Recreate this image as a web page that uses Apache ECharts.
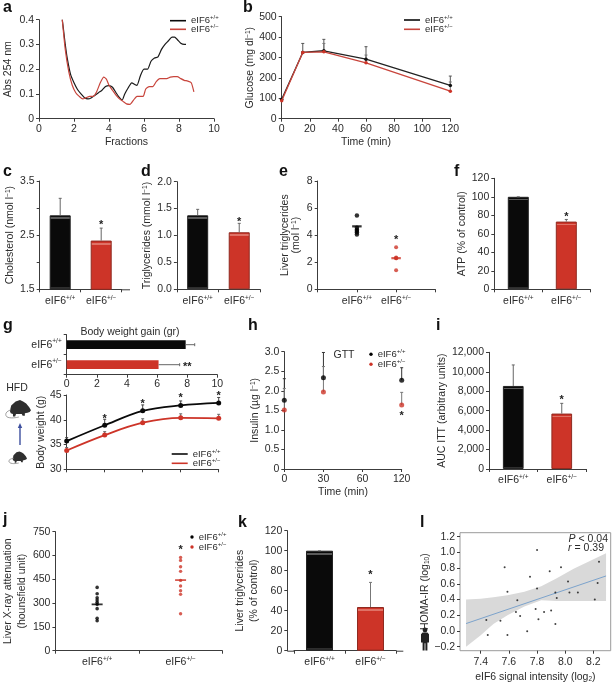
<!DOCTYPE html>
<html><head><meta charset="utf-8">
<style>html,body{margin:0;padding:0;background:#fff}#c{width:612px;height:685px}</style>
<script src="https://cdn.jsdelivr.net/npm/echarts@6/dist/echarts.min.js"></script>
</head><body><div id="c"></div>
<script>
// ---- data ----
const WT='eIF6+/+', HET='eIF6+/\u2212';
const genotypes=[WT,HET];
// a
const aBlackX=[1.33,1.4,1.5,1.6,1.8,2.0,2.2,2.4,2.6,2.8,3.0,3.2,3.4,3.6,3.8,4.0,4.2,4.4,4.6,4.75,4.9,5.1,5.3,5.5,5.6,5.8,6.0,6.2,6.4,6.6,6.8,7.0,7.2,7.4,7.6,7.75,7.9,8.1,8.3,8.4];
const aBlackY=[.40,.36,.30,.25,.18,.145,.118,.10,.085,.08,.085,.095,.105,.115,.13,.134,.127,.105,.085,.075,.10,.125,.145,.137,.135,.175,.20,.20,.232,.245,.25,.28,.30,.315,.33,.33,.32,.305,.30,.30];
const aRedX=[1.33,1.5,1.7,1.9,2.1,2.3,2.5,2.7,2.9,3.1,3.3,3.5,3.7,3.85,4.0,4.2,4.4,4.6,4.8,5.0,5.2,5.4,5.6,5.8,5.95,6.1,6.3,6.5,6.7,6.9,7.1,7.3,7.5,7.7,7.9,8.1,8.3,8.5,8.7,8.85];
const aRedY=[.40,.28,.19,.135,.105,.09,.08,.085,.09,.09,.11,.145,.168,.16,.135,.115,.095,.08,.07,.06,.058,.075,.09,.09,.09,.12,.13,.13,.15,.162,.162,.162,.168,.17,.17,.162,.155,.152,.145,.108];
// b
const bTime=[0,15,30,60,120];
const bBlack=[95,325,333,292,163], bRed=[88,325,328,274,135];
const bBlackErr=[null,369,389,353,209], bRedErr=[null,null,369,312,180];
// c d f i k bars
const cVals=[2.866,2.40], cErr=[3.18,2.63], cStar=[null,2.73];
const dVals=[1.375,1.06], dErr=[1.486,1.226], dStar=[null,1.29];
const fVals=[100,73.2], fErr=[100,75.5], fStar=[null,80.8];
const iVals=[8540,5700], iErr=[10700,6750], iStar=[null,7340];
const kVals=[100,43.7], kErr=[100,68.3], kStar=[null,77.3];
// e
const eBlack=[5.45,4.55,4.4,4.3,4.2,4.05], eBlackMean=4.65;
const eRed=[3.1,2.35,2.3,2.3,1.4], eRedMean=2.3, eStar=3.8;
// g
const gGain=[7.9,6.1], gGainErr=[8.5,7.5];
const gWeeks=['0','1','2','3','4'];
const gBlack=[35.7,38.9,41.8,42.9,43.4], gRed=[33.8,36.9,39.4,40.4,40.3];
const gBlackErr=[36.4,40.1,43.0,43.8,44.5], gRedErr=[34.4,37.6,40.2,41.2,41.1];
const gStars=[null,40.6,43.6,44.8,45.3];
// h
const hTime=['0','30','60','120'];
const hBlack=[1.76,2.335,null,2.27], hRed=[1.51,1.97,null,1.636];
const hBlackErr=[2.31,2.98,null,2.59], hRedErr=[2.06,2.62,null,1.96];
// j
const jBlack=[399,359,334,319,305,292,265,204,189], jBlackMean=292;
const jRed=[588,569,529,500,443,408,378,355,233], jRedMean=445, jStar=649;
// l
const lX=[7.44,7.54,7.45,7.59,7.57,7.59,7.66,7.65,7.68,7.73,7.75,7.80,7.80,7.79,7.81,7.85,7.90,7.89,7.93,7.93,7.94,7.97,8.02,8.03,8.09,8.21,8.23,8.24];
const lY=[.14,.13,-.05,-.05,.81,.50,.39,.24,.19,-.005,.69,1.03,.54,.28,.15,.24,.26,.76,.49,.09,.42,.81,.63,.49,.49,.40,.61,.88];
const lFitX=[7.296,8.29], lFitY=[.094,.70];
const lBandX=[7.296,7.40,7.49,7.59,7.71,7.83,7.94,8.06,8.29];
const lBandHi=[.40,.41,.43,.455,.50,.57,.67,.79,.99];
const lBandLo=[-.20,-.055,.09,.2,.31,.39,.38,.38,.38];
const lTicksX=[7.4,7.6,7.8,8.0,8.2];
const lTicksY=[-0.2,0.0,0.2,0.4,0.6,0.8,1.0,1.2];

// ---- style ----
const FONT='"Liberation Sans",Arial,sans-serif', FS=10.5, TXT='#2b2b2b', AX='#3c3c3c', BLK='#0a0a0a', RED='#cd3428';
const rich={
 n:{fontSize:FS,fontFamily:FONT,color:TXT,lineHeight:13},
 s:{fontSize:6.5,fontFamily:FONT,color:TXT,verticalAlign:'top',lineHeight:9},
 d:{fontSize:6.5,fontFamily:FONT,color:TXT,verticalAlign:'bottom',lineHeight:9},
 i:{fontSize:FS,fontFamily:FONT,color:TXT,fontStyle:'italic',lineHeight:13}
};
const richLeg={n:{fontSize:9.5,fontFamily:FONT,color:TXT,lineHeight:12},s:{fontSize:6,fontFamily:FONT,color:TXT,verticalAlign:'top',lineHeight:8}};
const geno=g=>{const m=/^(eIF6)(.*)$/.exec(g);return m?`{n|${m[1]}}{s|${m[2]}}`:g;};
const opt={animation:false,backgroundColor:'#fff',textStyle:{fontFamily:FONT},grid:[],xAxis:[],yAxis:[],series:[],legend:[],graphic:[]};

function axisBase(){return {
 axisLine:{show:true,onZero:false,lineStyle:{color:AX,width:1}},
 axisTick:{show:true,length:3,inside:false,lineStyle:{color:AX,width:1}},
 splitLine:{show:false},
 axisLabel:{fontSize:FS,fontFamily:FONT,color:TXT,margin:5,rich},
 nameTextStyle:{fontSize:FS,fontFamily:FONT,color:TXT,rich},
 nameLocation:'middle'
};}
// geometry in page pixels: l,r,t,b
function panel(g,x,y){
 const i=opt.grid.length;
 opt.grid.push({left:g.l,top:g.t,width:g.r-g.l,height:g.b-g.t,containLabel:false,show:!!g.frame,borderColor:'#9a9a9a',borderWidth:1});
 opt.xAxis.push(Object.assign(axisBase(),{gridIndex:i},x));
 opt.yAxis.push(Object.assign(axisBase(),{gridIndex:i},y));
 return i;
}
function lineS(i,name,rows,color,o){opt.series.push(Object.assign({type:'line',name,xAxisIndex:i,yAxisIndex:i,data:rows,showSymbol:false,symbol:'none',lineStyle:{color,width:1.5},itemStyle:{color},connectNulls:false,z:4},o||{}));}
function errS(i,rows,color,horizontal,w){
 opt.series.push({type:'custom',xAxisIndex:i,yAxisIndex:i,data:rows,silent:true,z:3,clip:false,
  encode:horizontal?{x:[0,2],y:1}:{x:0,y:[1,2]},
  renderItem(p,api){
   const a=api.coord([api.value(0),api.value(1)]);
   const b=horizontal?api.coord([api.value(2),api.value(1)]):api.coord([api.value(0),api.value(2)]);
   const st={stroke:color,lineWidth:w||1,fill:null};
   const cap=horizontal?{x1:b[0],y1:b[1]-1.5,x2:b[0],y2:b[1]+1.5}:{x1:b[0]-1.5,y1:b[1],x2:b[0]+1.5,y2:b[1]};
   return {type:'group',children:[{type:'line',shape:{x1:a[0],y1:a[1],x2:b[0],y2:b[1]},style:st},{type:'line',shape:cap,style:st}]};
  }});
}
function starS(i,rows,text){
 opt.series.push({type:'custom',xAxisIndex:i,yAxisIndex:i,data:rows,silent:true,z:6,clip:false,encode:{x:0,y:1},
  renderItem(p,api){const c=api.coord([api.value(0),api.value(1)]);
   return {type:'text',style:{text:text||'*',x:c[0],y:c[1]+2,fill:'#222',fontSize:11,fontWeight:'bold',fontFamily:FONT,align:'center',verticalAlign:'middle'}};}});
}
const pair=(vals,tops)=>vals.map((v,k)=>tops[k]==null||v==null?null:[k,v,tops[k]]).filter(Boolean);
const stars=a=>a.map((v,k)=>v==null?null:[k,v]).filter(Boolean);
function barFill(color,stripe,bottom,h,o1,o2){
 const a=o1/h,b=o2/h,c=1-2.5/h;
 const st=[{offset:0,color},{offset:a,color},{offset:a,color:stripe},{offset:b,color:stripe},{offset:b,color}];
 if(bottom){st.push({offset:c,color},{offset:c,color:bottom},{offset:1,color:bottom});} else st.push({offset:1,color});
 return {type:'linear',x:0,y:0,x2:0,y2:1,colorStops:st};
}
function bars(i,vals,g,min,max,w,o1,o2,horizontal){
 const span=horizontal?(g.r-g.l):(g.b-g.t);
 const data=vals.map((v,k)=>{
  const h=(v-min)/(max-min)*span;
  if(horizontal) return {value:v,itemStyle:{color:k?RED:BLK}};
  const f=k?barFill(RED,'#df7266',null,h,o1,o2):barFill(BLK,'#5a5a5a','#2e2e2e',h,o1,o2);
  return {value:v,itemStyle:{color:f,borderColor:k?'#8f2a20':'#222',borderWidth:1}};
 });
 opt.series.push({type:'bar',xAxisIndex:i,yAxisIndex:i,data,barWidth:w,z:2,silent:true});
}
function catX(extra){return Object.assign({type:'category',data:genotypes,axisLabel:Object.assign(axisBase().axisLabel,{formatter:geno,interval:0}),axisTick:Object.assign(axisBase().axisTick,{alignWithLabel:false})},extra||{});}
function valY(min,max,interval,name,gap,fmt,extra){
 const a=axisBase();
 const y={type:'value',min,max,interval,name,nameGap:gap};
 if(fmt) y.axisLabel=Object.assign(a.axisLabel,{formatter:fmt});
 return Object.assign(y,extra||{});
}
function leg(name,left,y,color,line){
 opt.legend.push({show:true,data:[name],left,top:y-6,padding:0,orient:'horizontal',selectedMode:false,
  icon:line?'rect':'circle',itemWidth:line?16:3.4,itemHeight:line?1.6:3.4,
  itemStyle:{color,borderWidth:0},lineStyle:{width:0},
  textStyle:{rich:richLeg,fontSize:9.5,fontFamily:FONT,color:TXT},
  formatter:n=>`{n|${n.slice(0,4)}}{s|${n.slice(4)}}`});
}
function letter(t,x,y){opt.graphic.push({type:'text',left:x,top:y-9,silent:true,style:{text:t,fontFamily:FONT,fontSize:16,fontWeight:'bold',fill:'#111'}});}
function gText(t,x,y,o){opt.graphic.push({type:'text',x,y,silent:true,style:Object.assign({text:t,fontFamily:FONT,fontSize:FS,fill:TXT,align:'center',verticalAlign:'middle',rich},o||{})});}
function hline(x1,x2,y){opt.graphic.push({type:'line',silent:true,shape:{x1,y1:y,x2,y2:y},style:{stroke:AX,lineWidth:1}});}
const twoLineName=Object.assign(axisBase().nameTextStyle,{lineHeight:14});

// ---- a ----
let g={l:39,r:214,t:19.7,b:118.7},i;
i=panel(g,{type:'value',min:0,max:10,interval:2,name:'Fractions',nameGap:18},valY(0,0.4,0.1,'Abs 254 nm',25));
lineS(i,WT,aBlackX.map((x,k)=>[x,aBlackY[k]]),BLK,{smooth:0.2,lineStyle:{color:'#1a1a1a',width:1.2}});
lineS(i,HET,aRedX.map((x,k)=>[x,aRedY[k]]),RED,{smooth:0.2,lineStyle:{color:'#c8453c',width:1.2}});
leg(WT,170,20.7,BLK,true);leg(HET,170,29.3,'#c8453c',true);
// ---- b ----
g={l:281.7,r:450.3,t:16.7,b:118.7};
i=panel(g,{type:'value',min:0,max:120,interval:20,name:'Time (min)',nameGap:18},valY(0,500,100,'Glucose (mg dl{s|\u22121})',23));
errS(i,bTime.map((t,k)=>bBlackErr[k]==null?null:[t,bBlack[k],bBlackErr[k]]).filter(Boolean),'#555');
errS(i,bTime.map((t,k)=>bRedErr[k]==null?null:[t,bRed[k],bRedErr[k]]).filter(Boolean),'#777');
lineS(i,WT,bTime.map((t,k)=>[t,bBlack[k]]),'#111',{showSymbol:true,symbol:'circle',symbolSize:3.5,lineStyle:{color:'#222',width:1.3}});
lineS(i,HET,bTime.map((t,k)=>[t,bRed[k]]),RED,{showSymbol:true,symbol:'circle',symbolSize:3.5,lineStyle:{color:'#c8453c',width:1.3},z:5});
leg(WT,404,20,BLK,true);leg(HET,404,29.3,'#c8453c',true);
// ---- c ----
g={l:39.7,r:121.7,t:181,b:289.3};
i=panel(g,catX(),valY(1.5,3.5,0.5,'Cholesterol (nmol l{s|\u22121})',24,v=>(v*2)%2===1?v.toFixed(1):''));
errS(i,pair(cVals,cErr),'#666');bars(i,cVals,g,1.5,3.5,21,2,4);starS(i,stars(cStar));
hline(121.7,130,289.8);
// ---- d ----
g={l:176.9,r:260,t:181.7,b:289.3};
i=panel(g,catX(),valY(0,2,0.5,'Triglycerides (mmol l{s|\u22121})',24,v=>v.toFixed(1)));
errS(i,pair(dVals,dErr),'#666');bars(i,dVals,g,0,2,21,2,4);starS(i,stars(dStar));
// ---- e ----
g={l:317.7,r:435.3,t:181,b:289.3};
{const xa=axisBase();
i=panel(g,{type:'value',min:0,max:3,interval:1,axisLabel:Object.assign(xa.axisLabel,{formatter:v=>v===1||v===2?geno(genotypes[v-1]):'',hideOverlap:false})},
 valY(0,8,2,'Liver triglycerides\n(mol l{s|\u22121})',16));}
opt.series.push({type:'scatter',xAxisIndex:i,yAxisIndex:i,data:eBlack.map(v=>[1,v]),symbolSize:4.5,itemStyle:{color:'#000'},z:4});
opt.series.push({type:'scatter',xAxisIndex:i,yAxisIndex:i,data:[[1,eBlackMean]],symbol:'rect',symbolSize:[9.5,2.2],itemStyle:{color:'#000'},z:4});
opt.series.push({type:'scatter',xAxisIndex:i,yAxisIndex:i,data:eRed.map(v=>[2,v]),symbolSize:4,itemStyle:{color:RED},z:4});
opt.series.push({type:'scatter',xAxisIndex:i,yAxisIndex:i,data:[[2,eRedMean]],symbol:'rect',symbolSize:[9.5,2.2],itemStyle:{color:RED},z:4});
starS(i,[[2,eStar]]);
// ---- f ----
g={l:494.3,r:590.3,t:178.3,b:289.3};
i=panel(g,catX(),valY(0,120,20,'ATP (% of control)',27));
errS(i,pair(fVals,fErr),'#666');bars(i,fVals,g,0,120,21,2,3);starS(i,stars(fStar));
// ---- g top ----
g={l:66.7,r:217.3,t:334.7,b:374.7};
{const ya=axisBase();
i=panel(g,{type:'value',min:0,max:10,interval:2,axisLabel:Object.assign(axisBase().axisLabel,{margin:4})},
 {type:'category',data:genotypes,inverse:true,axisLabel:Object.assign(ya.axisLabel,{formatter:geno,interval:0,margin:5})});}
errS(i,gGain.map((v,k)=>[v,k,gGainErr[k]]),'#666',true);
bars(i,gGain,g,0,10,8.7,0,0,true);
starS(i,[[8.0,1]],'**');
gText('Body weight gain (gr)',130,332.5);
// ---- g bottom ----
g={l:66.7,r:218.7,t:395,b:469.3};
i=panel(g,{type:'category',data:gWeeks,boundaryGap:false,axisLabel:{show:false}},valY(30,45,5,'Body weight (g)',18));
errS(i,gBlack.map((v,k)=>[k,v,gBlackErr[k]]),'#444');
errS(i,gRed.map((v,k)=>[k,v,gRedErr[k]]),'#666');
lineS(i,WT,gBlack,BLK,{smooth:0.35,showSymbol:true,symbol:'circle',symbolSize:5,lineStyle:{color:BLK,width:1.8}});
lineS(i,HET,gRed,RED,{smooth:0.35,showSymbol:true,symbol:'circle',symbolSize:5,lineStyle:{color:RED,width:1.8}});
starS(i,stars(gStars));
leg(WT,171.7,454,BLK,true);leg(HET,171.7,463.3,RED,true);
gText('HFD',17,388);
// mice + arrow (decoration)
const mouseShape=[[4,62],[10,36],[30,16],[50,10],[66,18],[78,26],[92,44],[100,58],[94,66],[84,70],[72,72],[72,84],[62,84],[58,76],[32,76],[28,88],[18,88],[18,76],[8,72]];
function mouse(x,y,w,h){
 opt.graphic.push({type:'polygon',silent:true,shape:{points:mouseShape.map(p=>[x+p[0]/100*w,y+p[1]/90*h])},style:{fill:'#2f2f2f'}});
 opt.graphic.push({type:'polyline',silent:true,shape:{points:[[x+2,y+h*0.62],[x-3,y+h*0.8],[x-1,y+h*1.02],[x+w*0.45,y+h*1.0]],smooth:0.5},style:{stroke:'#888',lineWidth:0.8,fill:null}});
}
mouse(9,398,22,19);mouse(12,450,15,13);
opt.graphic.push({type:'line',silent:true,shape:{x1:20,y1:445,x2:20,y2:426},style:{stroke:'#3d4f9e',lineWidth:1.4}});
opt.graphic.push({type:'polygon',silent:true,shape:{points:[[20,423],[17.8,428],[22.2,428]]},style:{fill:'#3d4f9e'}});
// ---- h ----
g={l:284.3,r:401.7,t:351.7,b:469};
i=panel(g,{type:'category',data:hTime,boundaryGap:false,name:'Time (min)',nameGap:18,axisLabel:Object.assign(axisBase().axisLabel,{interval:0})},
 valY(0,3,0.5,'Insulin (\u00b5g l{s|\u22121})',21,v=>v===0?'0':v.toFixed(1)));
errS(i,pair(hBlack,hBlackErr),'#333');errS(i,pair(hRed,hRedErr),'#777');
opt.series.push({type:'scatter',name:WT,xAxisIndex:i,yAxisIndex:i,data:hBlack.map((v,k)=>v==null?null:[k,v]).filter(Boolean),symbolSize:5,itemStyle:{color:'#000'},z:5});
opt.series.push({type:'scatter',name:HET,xAxisIndex:i,yAxisIndex:i,data:hRed.map((v,k)=>v==null?null:[k,v]).filter(Boolean),symbolSize:5,itemStyle:{color:RED},z:5});
starS(i,[[3,1.41]]);
gText('GTT',344,355);
leg(WT,369.3,354.3,'#000',false);leg(HET,369.3,364.3,RED,false);
// ---- i ----
g={l:489,r:586,t:352.3,b:469};
i=panel(g,catX(),valY(0,12000,2000,'AUC ITT (arbitrary units)',36,v=>v.toLocaleString('en-US')));
errS(i,pair(iVals,iErr),'#666');bars(i,iVals,g,0,12000,20.7,2,3);starS(i,stars(iStar));
// ---- j ----
g={l:53.7,r:222.3,t:531.7,b:650.7};
i=panel(g,catX(),valY(0,750,150,'Liver X-ray attenuation\n(hounsfield unit)',26,null,{nameTextStyle:twoLineName}));
opt.series.push({type:'scatter',xAxisIndex:i,yAxisIndex:i,data:jBlack.map(v=>[0,v]),symbolSize:3.6,itemStyle:{color:'#000'},z:4});
opt.series.push({type:'scatter',xAxisIndex:i,yAxisIndex:i,data:[[0,jBlackMean]],symbol:'rect',symbolSize:[11,1.8],itemStyle:{color:'#000'},z:4});
opt.series.push({type:'scatter',xAxisIndex:i,yAxisIndex:i,data:jRed.map(v=>[1,v]),symbolSize:3.4,itemStyle:{color:RED},z:4});
opt.series.push({type:'scatter',xAxisIndex:i,yAxisIndex:i,data:[[1,jRedMean]],symbol:'rect',symbolSize:[11,1.8],itemStyle:{color:RED},z:4});
starS(i,[[1,jStar]]);
leg(WT,190.3,537,'#000',false);leg(HET,190.3,547,RED,false);
// ---- k ----
g={l:294,r:396,t:530.7,b:650.7};
i=panel(g,catX(),valY(0,120,20,'Liver triglycerides\n(% of control)',14,null,{offset:6.7,nameTextStyle:twoLineName}));
errS(i,pair(kVals,kErr),'#777');bars(i,kVals,g,0,120,27,2,4);starS(i,stars(kStar));
hline(287.3,294,651.2);hline(396,403.3,651.2);
// ---- l ----
g={l:460,r:610.7,t:532.7,b:650.7,frame:true};
{const xa=axisBase(),ya=axisBase();
i=panel(g,{type:'value',min:7.253,max:8.323,name:'eIF6 signal intensity (log{d|2})',nameGap:21,
  axisLine:{show:false,onZero:false},axisTick:Object.assign(xa.axisTick,{customValues:lTicksX}),
  axisLabel:Object.assign(xa.axisLabel,{customValues:lTicksX,formatter:v=>v.toFixed(1),margin:6})},
 {type:'value',min:-0.251,max:1.25,name:'HOMA-IR (log{d|10})',nameGap:23,
  axisLine:{show:false,onZero:false},axisTick:Object.assign(ya.axisTick,{customValues:lTicksY}),
  axisLabel:Object.assign(ya.axisLabel,{customValues:lTicksY,formatter:v=>(v<0?'\u2212':'')+Math.abs(v).toFixed(1)})});}
opt.series.push({type:'custom',xAxisIndex:i,yAxisIndex:i,data:lBandX.map((x,k)=>[x,lBandLo[k],lBandHi[k]]),silent:true,z:1,encode:{x:0,y:[1,2]},
 renderItem(p,api){
  if(p.dataIndex!==0) return null;
  const up=lBandX.map((x,k)=>api.coord([x,lBandHi[k]]));
  const lo=lBandX.map((x,k)=>api.coord([x,lBandLo[k]])).reverse();
  return {type:'polygon',shape:{points:up.concat(lo)},style:{fill:'#d9d9d9',stroke:null}};
 }});
opt.series.push({type:'line',xAxisIndex:i,yAxisIndex:i,data:lFitX.map((x,k)=>[x,lFitY[k]]),symbol:'none',lineStyle:{color:'#7ca3cc',width:1},z:2});
opt.series.push({type:'scatter',xAxisIndex:i,yAxisIndex:i,data:lX.map((x,k)=>[x,lY[k]]),symbolSize:2,itemStyle:{color:'#111'},z:3});
gText('{i|P} {n|< 0.04}',608,539,{align:'right'});
gText('{i|r} {n|= 0.39}',604,548.5,{align:'right'});
// person (decoration)
const personShape=[[2,0],[8,0],[10,4],[10,22],[8,22],[8,40],[5.5,40],[5.5,24],[4.5,24],[4.5,40],[2,40],[2,22],[0,22],[0,4]];
opt.graphic.push({type:'circle',silent:true,shape:{cx:425,cy:630,r:2.4},style:{fill:'#222'}});
opt.graphic.push({type:'polygon',silent:true,shape:{points:personShape.map(p=>[421+p[0]*0.8,632.5+p[1]*0.45])},style:{fill:'#222'}});
// letters
[['a',3,9],['b',243,9],['c',3,173],['d',141,173],['e',279,173],['f',454,173],['g',3,327],['h',248,327],['i',436,327],['j',3,521],['k',238,524],['l',420,524]].forEach(a=>letter(a[0],a[1],a[2]));

const chart=echarts.init(document.getElementById('c'),null,{renderer:'canvas',width:612,height:685});
chart.setOption(opt);
</script></body></html>
